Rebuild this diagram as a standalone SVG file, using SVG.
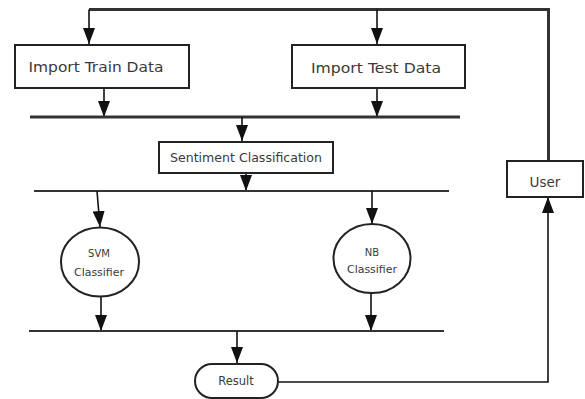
<svg xmlns="http://www.w3.org/2000/svg" width="585" height="399" viewBox="0 0 585 399">
<style>
.box{fill:#fff;stroke:#222;stroke-width:2}
.bar{stroke:#333;fill:none}
.ln{stroke:#111;stroke-width:1.6;fill:none}
.t{font-family:"DejaVu Sans",Verdana,sans-serif;fill:#3a3a3a;text-anchor:middle;dominant-baseline:central}
</style>
<defs>
<marker id="ah" markerUnits="userSpaceOnUse" markerWidth="16" markerHeight="12" refX="16" refY="6" orient="auto">
<path d="M0,0 L16,6 L0,12 z" fill="#111"/>
</marker>
</defs>
<rect width="585" height="399" fill="#fff"/>
<g id="connectors">
<path class="bar" stroke-width="3" d="M89,9.5 H548.5 V160"/>
<path class="ln" d="M89,9.5 V44" marker-end="url(#ah)"/>
<path class="ln" d="M377,9.5 V44" marker-end="url(#ah)"/>
<path class="ln" d="M104,88 V117" marker-end="url(#ah)"/>
<path class="ln" d="M377,88 V117" marker-end="url(#ah)"/>
<line class="bar" stroke-width="3" x1="30" y1="117" x2="460" y2="117"/>
<path class="ln" d="M242,117 V141" marker-end="url(#ah)"/>
<path class="ln" d="M246,173 V191" marker-end="url(#ah)"/>
<line class="bar" stroke-width="2" x1="34" y1="191" x2="449" y2="191"/>
<path class="ln" d="M97,191 L100,227" marker-end="url(#ah)"/>
<path class="ln" d="M372,191 V224" marker-end="url(#ah)"/>
<path class="ln" d="M101,296 V331" marker-end="url(#ah)"/>
<path class="ln" d="M371,293 V331" marker-end="url(#ah)"/>
<line class="bar" stroke-width="2" x1="29" y1="331" x2="444" y2="331"/>
<path class="ln" d="M237,331 V363" marker-end="url(#ah)"/>
<path class="ln" stroke-width="2.5" d="M278,382 H548 V197" marker-end="url(#ah)"/>
</g>
<g id="import-train">
<rect class="box" x="15" y="45" width="174" height="43"/>
<text class="t" x="96" y="67" font-size="14" textLength="135" lengthAdjust="spacingAndGlyphs">Import Train Data</text>
</g>
<g id="import-test">
<rect class="box" x="292" y="45" width="173" height="43"/>
<text class="t" x="376" y="68" font-size="14" textLength="130" lengthAdjust="spacingAndGlyphs">Import Test Data</text>
</g>
<g id="sentiment">
<rect class="box" x="159" y="142" width="174" height="31"/>
<text class="t" x="246" y="157" font-size="12.5" textLength="152" lengthAdjust="spacingAndGlyphs">Sentiment Classification</text>
</g>
<g id="svm">
<ellipse class="box" cx="100" cy="262" rx="39" ry="34.5"/>
<text class="t" x="99" y="253" font-size="10">SVM</text>
<text class="t" x="99" y="272" font-size="10.5" textLength="50" lengthAdjust="spacingAndGlyphs">Classifier</text>
</g>
<g id="nb">
<ellipse class="box" cx="372" cy="258.5" rx="38.5" ry="34.5"/>
<text class="t" x="372" y="252" font-size="10">NB</text>
<text class="t" x="372" y="269" font-size="10.5" textLength="50" lengthAdjust="spacingAndGlyphs">Classifier</text>
</g>
<g id="result">
<rect class="box" x="195" y="364" width="83" height="34" rx="17"/>
<text class="t" x="236" y="381" font-size="11.5">Result</text>
</g>
<g id="user">
<rect class="box" x="507" y="161" width="76" height="36"/>
<text class="t" x="545" y="182" font-size="13.5">User</text>
</g>
</svg>
